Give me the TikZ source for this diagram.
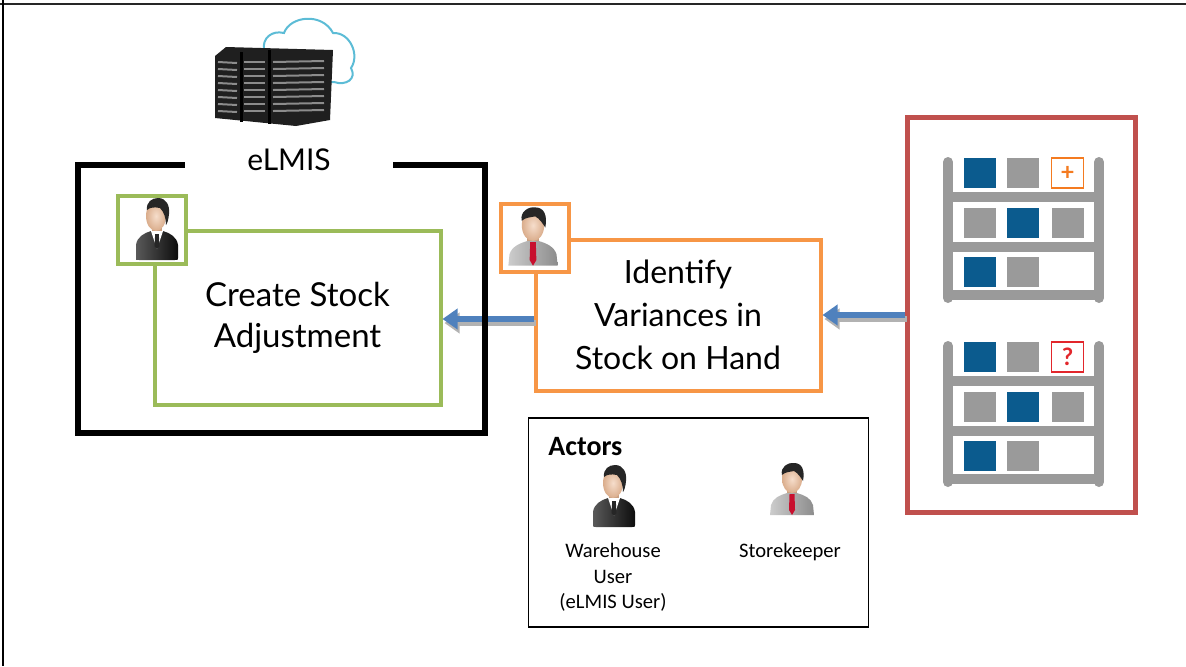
\documentclass[tikz,border=0pt]{standalone}
\usepackage{fontspec}
\setmainfont{Lato}
\newfontfamily\calibri{Carlito}
\usetikzlibrary{arrows.meta}

\definecolor{casegreen}{HTML}{9BBB59}
\definecolor{caseorange}{HTML}{F79646}
\definecolor{storered}{HTML}{C0504D}
\definecolor{flowblue}{HTML}{4F81BD}
\definecolor{crateblue}{HTML}{0B5B8E}
\definecolor{crategray}{HTML}{9A9A9A}
\definecolor{plusorange}{HTML}{F47B20}
\definecolor{askred}{HTML}{E2262B}
\definecolor{skin}{HTML}{EDBC98}
\definecolor{hair}{HTML}{262626}
\definecolor{tiered}{HTML}{C8102E}
\definecolor{cloudblue}{HTML}{5CBCD6}

\begin{document}
\begin{tikzpicture}[
	x=0.5pt, y=-0.5pt,
	usecase/.style={ draw, line width=2pt, fill=white, inner sep=0pt, align=center },
	iconbox/.style={ draw, line width=2pt, fill=white, inner sep=0pt, minimum width=34pt, minimum height=34pt },
	flow/.style={ flowblue, line width=3pt, -{Triangle[length=7.5pt,width=10pt]} },
	flowshadow/.style={ black!30, line width=3pt, -{Triangle[length=7.5pt,width=10pt]} },
	crate/.style={ inner sep=0pt, minimum width=16pt, minimum height=15pt },
	flagcrate/.style={ crate, draw, line width=0.7pt, fill=white, font=\bfseries\fontsize{12}{12}\selectfont },
	rack/.style={ crategray, line width=5pt, line cap=round },
	plank/.style={ crategray, line width=5pt },
	actortext/.style={ font=\calibri\fontsize{10.3}{12.75}\selectfont, align=center, anchor=north, inner sep=0pt },
	suitman/.pic={
		\fill[skin!85!black] (-5,-6) rectangle (5,6);
		\shade[left color=black!65, right color=black!95] (-21,29) .. controls (-21,31) .. (-17,31) -- (17,31) .. controls (21,31) .. (21,29) -- (21,16) .. controls (20,8) and (13,4) .. (6,2) -- (-6,2) .. controls (-13,4) and (-20,8) .. (-21,16) -- cycle;
		\fill[white] (-6,2) -- (6,2) -- (0,20) -- cycle;
		\fill[black!85] (-1.8,5) -- (1.8,5) -- (2.5,17) -- (0,20) -- (-2.5,17) -- cycle;
		\shade[inner color=skin!50!white, outer color=skin!92!black] (-1,-13) ellipse [x radius=10, y radius=15];
		\fill[hair] (-10,-19) .. controls (-11,-27) and (-5,-31) .. (1,-31) .. controls (9,-31) and (13,-24) .. (12,-15) .. controls (11.5,-10) and (10.5,-6) .. (9,-4) .. controls (9,-11) and (7,-17) .. (3,-21) .. controls (-2,-22) and (-7,-22) .. (-10,-19) -- cycle;
	},
	shirtman/.pic={
		\fill[skin!85!black] (-5,-6) rectangle (5,4);
		\shade[left color=black!20, right color=black!45] (-22,22) -- (-21,12) .. controls (-19,5) and (-12,2) .. (-5,0) -- (5,0) .. controls (12,2) and (19,5) .. (21,12) -- (22,22) -- cycle;
		\fill[tiered] (-2.5,1) -- (2.5,1) -- (3,17) -- (0,22) -- (-3,17) -- cycle;
		\shade[inner color=skin!50!white, outer color=skin!92!black] (0,-14) ellipse [x radius=10, y radius=14];
		\fill[hair] (-10,-18) .. controls (-12,-26) and (-4,-31) .. (2,-30) .. controls (10,-30) and (13,-23) .. (11,-12) .. controls (9,-15) and (6,-20) .. (2,-22) .. controls (-3,-21) and (-7,-21) .. (-10,-18) -- cycle;
	}
]

\useasboundingbox (0,0) rectangle (1186,666);
\draw[line width=1.2pt, black!85] (0,4) -- (1186,4);
\draw[line width=0.7pt] (3,0) -- (3,666);

% server with its cloud
\draw[cloudblue, line width=1pt, fill=white] (264,50) .. controls (262,38) and (272,30) .. (284,33) .. controls (290,16) and (322,12) .. (333,33) .. controls (350,32) and (360,55) .. (351,68) .. controls (357,79) and (346,86) .. (334,82) -- (264,82) -- cycle;
\fill[black!88] (215,56) -- (226,47) -- (333,50) -- (330,120) -- (296,126) -- (215,118) -- cycle;
\draw[black, line width=1.5pt] (241,52) -- (241,122);
\draw[black, line width=1.5pt] (269,50) -- (269,124);
\foreach \y in {62,69,...,111}{
	\draw[black!45, line width=1pt] (218,\y) -- (237,\y+1);
	\draw[black!45, line width=1pt] (244,\y) -- (265,\y);
	\draw[black!45, line width=1pt] (273,\y) -- (324,\y-1);
}

% use cases
\node at (297.5,317.5) (adjust) [usecase, draw=casegreen, minimum width=143pt, minimum height=87pt, font=\fontsize{16.5}{20.5}\selectfont] {Create Stock\\Adjustment};
\node at (151.5,230) (adjusticon) [iconbox, draw=casegreen] {};
\pic at (157,229) {suitman};

\node at (678,315) (ident) [usecase, draw=caseorange, minimum width=142.5pt, minimum height=75.5pt, font=\fontsize{16}{21.5}\selectfont] {Identify\\Variances in\\Stock on Hand};
\node at (535,237.5) (identicon) [iconbox, draw=caseorange] {};
\pic[scale=1.12] at (533,241) {shirtman};

% store room
\node at (1021.5,315) (store) [draw=storered, line width=2.5pt, minimum width=114pt, minimum height=197.5pt] {};
\foreach \dy/\s in {0/up,184/lo}{
	\draw[rack] (948,162+\dy) -- (948,298+\dy);
	\draw[rack] (1099,162+\dy) -- (1099,298+\dy);
	\draw[plank] (948,197+\dy) -- (1099,197+\dy);
	\draw[plank] (948,247+\dy) -- (1099,247+\dy);
	\draw[plank] (948,295+\dy) -- (1099,295+\dy);
	\node at (979.5,173+\dy) (\s11) [crate, fill=crateblue] {};
	\node at (1023,173+\dy) (\s12) [crate, fill=crategray] {};
	\node at (979.5,223+\dy) (\s21) [crate, fill=crategray] {};
	\node at (1023,223+\dy) (\s22) [crate, fill=crateblue] {};
	\node at (1067.5,223+\dy) (\s23) [crate, fill=crategray] {};
	\node at (979.5,271.5+\dy) (\s31) [crate, fill=crateblue] {};
	\node at (1023,271.5+\dy) (\s32) [crate, fill=crategray] {};
}
\node at (1067.5,173) (up13) [flagcrate, draw=plusorange, text=plusorange] {+};
\node at (1067.5,357) (lo13) [flagcrate, draw=askred, text=askred] {?};

% flows
\draw[flowshadow] ([shift={(2,4)}]store.west) -- ([shift={(2,4)}]store.west -| ident.east);
\draw[flow] (store.west) -- (store.west -| ident.east);
\draw[flowshadow] ([shift={(2,8)}]ident.west) -- ([shift={(2,8)}]ident.west -| adjust.east);
\draw[flow] ([yshift=-2pt]ident.west) -- ([yshift=-2pt]ident.west -| adjust.east);

% system boundary
\node at (281.5,299) (elmis) [draw, line width=3.2pt, minimum width=203.5pt, minimum height=134.25pt] {};
\node at (289,160) (elmislabel) [fill=white, inner sep=0pt, minimum width=104pt, minimum height=12pt, font=\fontsize{15}{15}\selectfont] {eLMIS};

% legend
\node at (698.5,522.5) (actors) [draw, line width=0.75pt, minimum width=170pt, minimum height=104.5pt] {};
\node at (548,447) (actorstitle) [anchor=west, inner sep=0pt, font=\calibri\bfseries\fontsize{14}{14}\selectfont] {Actors};
\pic at (614,496) {suitman};
\pic at (792,493) {shirtman};
\node at (613,543) (whuser) [actortext] {Warehouse\\User\\(eLMIS User)};
\node at (790,543) (keeper) [actortext] {Storekeeper};

\end{tikzpicture}
\end{document}
